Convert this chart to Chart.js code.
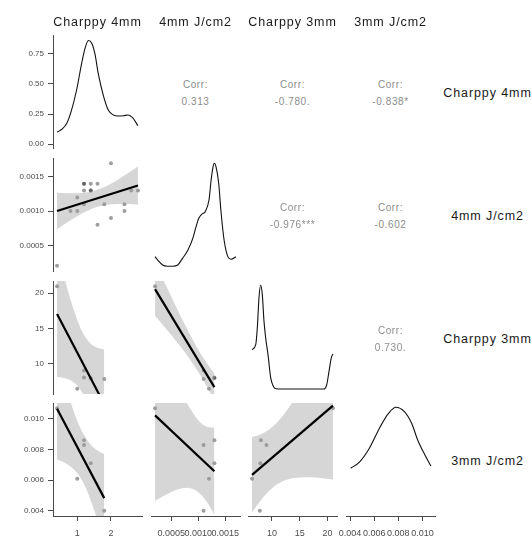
<!DOCTYPE html>
<html>
<head>
<meta charset="utf-8">
<script src="https://cdn.jsdelivr.net/npm/chart.js@4.4.1/dist/chart.umd.min.js"></script>
<style>
  html, body { margin: 0; padding: 0; background: #fff; }
  #wrap { position: relative; width: 532px; height: 536px; overflow: hidden;
          font-family: "Liberation Sans", Arial, sans-serif; }
  #wrap canvas { position: absolute; }
  .strip { position: absolute; transform: translate(-50%, -50%); font-size: 12.5px;
           letter-spacing: 0.9px; color: #1a1a1a; white-space: nowrap; }
  .corr  { position: absolute; transform: translate(-50%, -50%); font-size: 10px;
           letter-spacing: 0.6px; color: #8c8c8c; white-space: nowrap;
           text-align: center; line-height: 17px; }
</style>
</head>
<body>
<div id="wrap"></div>
<script>
"use strict";

// ── Data ──────────────────────────────────────────────────────────
const VARS = ["Charppy 4mm", "4mm J/cm2", "Charppy 3mm", "3mm J/cm2"];

const charppy4 = [0.4, 1.0, 1.2, 1.2, 1.4, 1.8, 0.8, 1.0, 1.2, 1.2, 1.4, 1.4, 1.6, 1.6, 2.0, 2.0, 2.4, 2.4, 2.6, 2.8];
const j4mm     = [0.0002, 0.0012, 0.0013, 0.0011, 0.0013, 0.0011, 0.0010, 0.0010, 0.0014, 0.0014,
                  0.0014, 0.0013, 0.0014, 0.0008, 0.0017, 0.0009, 0.0011, 0.0010, 0.0013, 0.0013];
const charppy3 = [21, 6.4, 8.0, 9.0, 7.9, 7.8, null, null, null, null, null, null, null, null, null, null, null, null, null, null];
const j3mm     = [0.0107, 0.0061, 0.0086, 0.0083, 0.0071, 0.0040, null, null, null, null, null, null, null, null, null, null, null, null, null, null];

// correlation labels, upper triangle, row by row
const corrLabels = [["0.313", "-0.780.", "-0.838*"], ["-0.976***", "-0.602"], ["0.730."]];

// axis limits per variable
const limits = [[0.28, 2.92], [0.000125, 0.001775], [5.67, 21.73], [0.003665, 0.011035]];
const densLimits = [-0.033, 0.908];   // first diagonal panel (shown scale)

const xTickVals = [[1, 2], [0.0005, 0.0010, 0.0015], [10, 15, 20], [0.004, 0.006, 0.008, 0.010]];
const xTickLbls = [["1", "2"], ["0.0005", "0.0010", "0.0015"], ["10", "15", "20"], ["0.004", "0.006", "0.008", "0.010"]];
const yTickVals = [[0, 0.25, 0.5, 0.75], [0.0005, 0.0010, 0.0015], [10, 15, 20], [0.004, 0.006, 0.008, 0.010]];
const yTickLbls = [["0.00", "0.25", "0.50", "0.75"], ["0.0005", "0.0010", "0.0015"], ["10", "15", "20"], ["0.004", "0.006", "0.008", "0.010"]];

// diagonal densities (rows 2-4 as share of panel height)
const densCh4X = [0.4, 0.54, 0.69, 0.83, 0.98, 1.13, 1.23, 1.33, 1.43, 1.53, 1.62, 1.77, 1.92, 2.07, 2.22, 2.37, 2.51, 2.64, 2.8];
const densCh4Y = [0.098, 0.123, 0.173, 0.283, 0.45, 0.672, 0.797, 0.862, 0.839, 0.742, 0.59, 0.408, 0.283, 0.242, 0.233, 0.236, 0.242, 0.219, 0.153];
const densJ4X  = [0.0002, 0.00025, 0.00034, 0.00043, 0.00053, 0.00062, 0.00071, 0.00081, 0.0009, 0.00096, 0.00101, 0.00107,
                  0.00113, 0.0012, 0.00124, 0.00127, 0.0013, 0.00133, 0.00138, 0.00142, 0.00148, 0.00155, 0.00161, 0.0017];
const densJ4Y  = [0.127, 0.097, 0.053, 0.042, 0.042, 0.053, 0.112, 0.186, 0.289, 0.392, 0.466, 0.504,
                  0.525, 0.628, 0.805, 0.909, 0.953, 0.923, 0.776, 0.54, 0.274, 0.127, 0.104, 0.127];
const densCh3X = [6.4, 7.06, 7.35, 7.65, 7.96, 8.25, 8.56, 8.86, 9.28, 9.77, 10.24, 10.67, 12.17, 19.38, 19.87, 20.29, 20.7, 21];
const densCh3Y = [0.392, 0.436, 0.584, 0.85, 0.962, 0.879, 0.643, 0.496, 0.348, 0.142, 0.068, 0.047, 0.044, 0.044, 0.082, 0.2, 0.319, 0.354];
const densJ3X  = [0.00405, 0.0048, 0.0056, 0.0065, 0.0072, 0.0078, 0.0085, 0.0091, 0.0096, 0.0102, 0.0107];
const densJ3Y  = [0.422, 0.48, 0.6, 0.79, 0.91, 0.962, 0.923, 0.82, 0.673, 0.54, 0.442];

// fitted lines and 95% bands, keyed row-col
const fit21X = [0.4, 2.8],          fit21Y = [0.0010, 0.001374];
const fit31X = [0.4, 1.8],          fit31Y = [17.03, 4.23];
const fit32X = [0.0002, 0.0013],    fit32Y = [20.58, 6.64];
const fit41X = [0.4, 1.8],          fit41Y = [0.01066, 0.00483];
const fit42X = [0.0002, 0.0013],    fit42Y = [0.01023, 0.00658];
const fit43X = [6.4, 21],           fit43Y = [0.00635, 0.01086];

const band21X  = [0.4, 0.7, 1.0, 1.3, 1.57, 1.9, 2.2, 2.5, 2.8];
const band21Hi = [0.001266, 0.001262, 0.001262, 0.001275, 0.001306, 0.001375, 0.001457, 0.001552, 0.001651];
const band21Lo = [0.000734, 0.000832, 0.000925, 0.001005, 0.001058, 0.001093, 0.001103, 0.001102, 0.001097];
const band31X  = [0.4, 0.6, 0.8, 1.0, 1.17, 1.4, 1.6, 1.8];
const band31Hi = [25.99, 22.44, 19.10, 16.19, 14.32, 12.82, 12.25, 12.0];
const band31Lo = [8.07, 7.96, 7.64, 6.89, 5.66, 2.94, -0.15, -3.57];
const band32X  = [0.0002, 0.0004, 0.0006, 0.0008, 0.00103, 0.0012, 0.0013];
const band32Hi = [24.38, 21.11, 17.91, 14.83, 11.60, 9.63, 8.57];
const band32Lo = [16.78, 14.98, 13.11, 11.12, 8.43, 6.18, 4.70];
const band41X  = [0.4, 0.6, 0.8, 1.0, 1.17, 1.4, 1.6, 1.8];
const band41Hi = [0.01395, 0.01248, 0.01110, 0.00987, 0.00906, 0.00831, 0.00794, 0.00769];
const band41Lo = [0.00737, 0.00717, 0.00689, 0.00645, 0.00588, 0.00468, 0.00339, 0.00197];
const band42X  = [0.0002, 0.0004, 0.0006, 0.0008, 0.00103, 0.0012, 0.0013];
const band42Hi = [0.01582, 0.01408, 0.01242, 0.01097, 0.00980, 0.00945, 0.00942];
const band42Lo = [0.00464, 0.00505, 0.00538, 0.00551, 0.00514, 0.00437, 0.00374];
const band43X  = [6.4, 8, 10, 12, 14, 16, 18, 21];
const band43Hi = [0.00881, 0.00899, 0.00945, 0.01022, 0.01125, 0.01243, 0.01370, 0.01568];
const band43Lo = [0.00389, 0.00470, 0.00547, 0.00594, 0.00615, 0.00620, 0.00617, 0.00604];

// ── Layout / style ────────────────────────────────────────────────
const PANEL_LEFT = [53, 151, 248, 346];
const PANEL_TOP  = [35, 158, 281, 403];
const PW = 89, PH = 113, M = 14;
const AXIS  = "#4a4a4a";
const TICK  = "#4d4d4d";
const BAND  = "rgba(153,153,153,0.4)";
const POINT = "rgba(0,0,0,0.38)";

const COLS = [charppy4, j4mm, charppy3, j3mm];
const DENS = [[densCh4X, densCh4Y], [densJ4X, densJ4Y], [densCh3X, densCh3Y], [densJ3X, densJ3Y]];
const FITS = {
  "1,0": [fit21X, fit21Y, band21X, band21Hi, band21Lo],
  "2,0": [fit31X, fit31Y, band31X, band31Hi, band31Lo],
  "2,1": [fit32X, fit32Y, band32X, band32Hi, band32Lo],
  "3,0": [fit41X, fit41Y, band41X, band41Hi, band41Lo],
  "3,1": [fit42X, fit42Y, band42X, band42Hi, band42Lo],
  "3,2": [fit43X, fit43Y, band43X, band43Hi, band43Lo],
};

const wrap = document.getElementById("wrap");
const xy = (xs, ys) => xs.map((x, i) => ({ x, y: ys[i] })).filter(p => p.x != null && p.y != null);

function fixedTicks(vals, lbls, size, pad) {
  return {
    afterBuildTicks: s => { s.ticks = vals.map(v => ({ value: v })); },
    ticks: {
      autoSkip: false, maxRotation: 0, minRotation: 0, padding: pad, color: TICK,
      font: { family: "'Liberation Sans', Arial, sans-serif", size },
      callback: (v, i) => lbls[i]
    }
  };
}

function makePanel(r, c, datasets, yMin, yMax) {
  const pl = PANEL_LEFT[c], pt = PANEL_TOP[r];
  const axisY = c === 0, axisX = r === 3;
  const left = axisY ? 0 : pl - M;
  const top = pt - M;
  const bottom = axisX ? 536 : pt + PH + M;
  const cv = document.createElement("canvas");
  cv.width = pl + PW + M - left;
  cv.height = bottom - top;
  cv.style.left = left + "px";
  cv.style.top = top + "px";
  wrap.appendChild(cv);

  const grid = { display: true, drawOnChartArea: false, drawTicks: true, tickLength: 5, tickColor: AXIS, color: AXIS };
  const border = { display: true, color: AXIS, width: 1 };
  const noPad = s => { s.paddingLeft = s.paddingRight = s.paddingTop = s.paddingBottom = 0; };

  new Chart(cv, {
    type: "line",
    data: { datasets },
    options: {
      responsive: false, animation: false, devicePixelRatio: 1, events: [],
      layout: { autoPadding: false, padding: { left: axisY ? 0 : M, right: M, top: M, bottom: axisX ? 0 : M } },
      plugins: { legend: { display: false }, tooltip: { enabled: false } },
      scales: {
        x: Object.assign({
          type: "linear", min: limits[c][0], max: limits[c][1], display: axisX, grid, border,
          afterFit: s => { s.height = axisX ? bottom - (pt + PH) : 0; noPad(s); }
        }, axisX ? fixedTicks(xTickVals[c], xTickLbls[c], 9, 7) : {}),
        y: Object.assign({
          type: "linear", min: yMin, max: yMax, display: axisY, grid, border,
          afterFit: s => { s.width = axisY ? pl : 0; noPad(s); }
        }, axisY ? fixedTicks(yTickVals[r], yTickLbls[r], 8, 4) : {})
      }
    }
  });
}

// ── Panels ────────────────────────────────────────────────────────
for (let r = 0; r < 4; r++) {
  for (let c = 0; c < 4; c++) {
    const cx = PANEL_LEFT[c] + PW / 2, cy = PANEL_TOP[r] + PH / 2;
    if (c > r) {
      const d = document.createElement("div");
      d.className = "corr";
      d.style.left = cx + "px";
      d.style.top = (cy + 1) + "px";
      d.innerHTML = "Corr:<br>" + corrLabels[r][c - r - 1];
      wrap.appendChild(d);
      continue;
    }
    if (r === c) {
      const [dx, dy] = DENS[r];
      const lim = r === 0 ? densLimits : [0, 1];
      makePanel(r, c, [{
        data: xy(dx, dy), borderColor: "#111", borderWidth: 1.1, pointRadius: 0,
        cubicInterpolationMode: "monotone", fill: false, clip: 0
      }], lim[0], lim[1]);
      continue;
    }
    const [fx, fy, bx, bhi, blo] = FITS[r + "," + c];
    makePanel(r, c, [
      { data: xy(COLS[c], COLS[r]), showLine: false, pointRadius: 2, pointBorderWidth: 0,
        pointBackgroundColor: POINT, order: 3 },
      { data: xy(bx, bhi), borderWidth: 0, pointRadius: 0, cubicInterpolationMode: "monotone",
        fill: "+1", backgroundColor: BAND, order: 2, clip: 0 },
      { data: xy(bx, blo), borderWidth: 0, pointRadius: 0, cubicInterpolationMode: "monotone",
        fill: false, order: 2, clip: 0 },
      { data: xy(fx, fy), borderColor: "#000", borderWidth: 2.2, pointRadius: 0, fill: false,
        order: 1, clip: 0 }
    ], limits[r][0], limits[r][1]);
  }
}

// ── Strip labels ──────────────────────────────────────────────────
VARS.forEach((name, i) => {
  const top = document.createElement("div");
  top.className = "strip";
  top.textContent = name;
  top.style.left = (PANEL_LEFT[i] + PW / 2) + "px";
  top.style.top = "22px";
  wrap.appendChild(top);

  const side = document.createElement("div");
  side.className = "strip";
  side.textContent = name;
  side.style.left = "487.5px";
  side.style.top = (PANEL_TOP[i] + PH / 2 + 1) + "px";
  wrap.appendChild(side);
});
</script>
</body>
</html>
